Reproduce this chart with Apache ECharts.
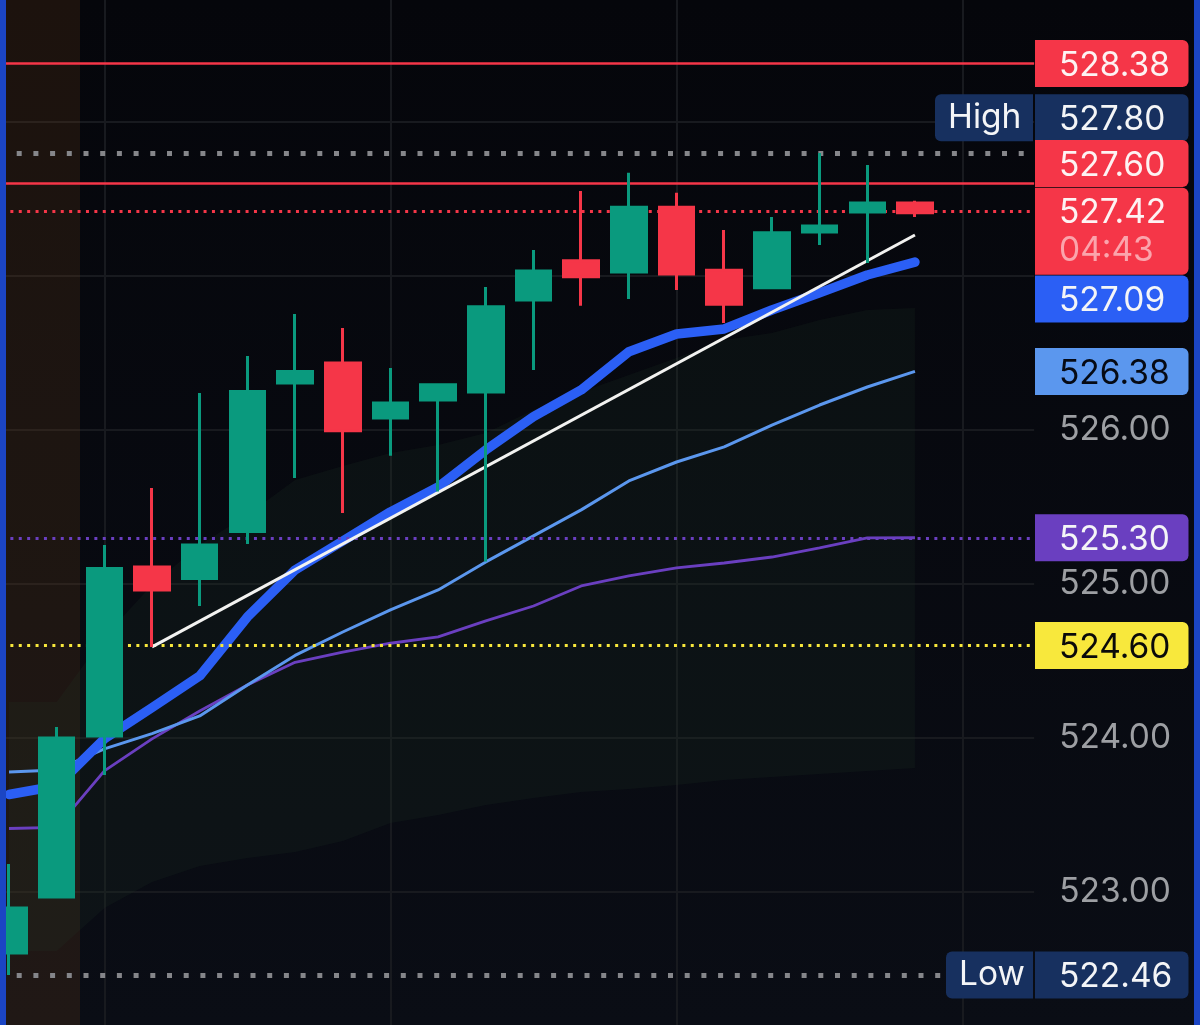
<!DOCTYPE html>
<html lang="en">
<head>
    <meta charset="UTF-8">
    <title>Candles with levels</title>
    <script src="https://cdn.jsdelivr.net/npm/echarts/dist/echarts.min.js"></script>
    <style>
        html, body { margin: 0; padding: 0; background: #06070c; }
        #chart { width: 1200px; height: 1025px; }
    </style>
</head>
<body>
<div id="chart"></div>
<script>
// one slot per bar, the last two are empty space before the price scale
var categories = ['1','2','3','4','5','6','7','8','9','10','11','12','13','14','15','16','17','18','19','20','21','22'];

// open, close, low, high
var candles = [
    [522.604, 522.896, 522.461, 523.182],
    [522.968, 524.000, 522.968, 524.071],
    [524.013, 525.100, 523.760, 525.253],
    [525.110, 524.961, 524.591, 525.623],
    [525.036, 525.253, 524.857, 526.240],
    [525.340, 526.249, 525.260, 526.481],
    [526.305, 526.379, 525.688, 526.753],
    [526.435, 525.995, 525.461, 526.662],
    [526.078, 526.175, 525.833, 526.403],
    [526.195, 526.294, 525.600, 526.294],
    [526.247, 526.800, 525.145, 526.929],
    [526.844, 527.032, 526.390, 527.169],
    [527.099, 526.995, 526.807, 527.552],
    [527.026, 527.446, 526.851, 527.671],
    [527.446, 527.013, 526.909, 527.541],
    [527.037, 526.816, 526.695, 527.299],
    [526.924, 527.281, 526.924, 527.383],
    [527.286, 527.325, 527.201, 527.799],
    [527.416, 527.474, 527.084, 527.721],
    [527.474, 527.411, 527.383, 527.489]
];

var emaFast = [523.633, 523.688, 523.994, 524.197, 524.403, 524.786, 525.091, 525.279, 525.468, 525.630,
               525.870, 526.086, 526.260, 526.508, 526.623, 526.656, 526.779, 526.890, 527.006, 527.090];
var emaSlow = [523.779, 523.792, 523.929, 524.028, 524.143, 524.344, 524.536, 524.688, 524.831, 524.961,
               525.143, 525.312, 525.481, 525.669, 525.792, 525.890, 526.032, 526.162, 526.279, 526.380];
var vwap    = [523.412, 523.419, 523.786, 523.994, 524.175, 524.344, 524.491, 524.558, 524.615, 524.656,
               524.760, 524.857, 524.987, 525.052, 525.104, 525.136, 525.175, 525.234, 525.299, 525.300];
var bandUpper = [524.234, 524.234, 524.656, 524.994, 525.253, 525.448, 525.675, 525.766, 525.851, 525.903,
                 525.981, 526.130, 526.247, 526.357, 526.468, 526.584, 526.630, 526.714, 526.779, 526.792];
var bandLower = [522.617, 522.617, 522.896, 523.065, 523.169, 523.221, 523.260, 523.331, 523.448, 523.500,
                 523.565, 523.610, 523.649, 523.669, 523.695, 523.727, 523.747, 523.766, 523.786, 523.805];

var trendFrom = ['4', 524.591];
var trendTo = ['20', 527.266];

var levelsRed = [528.38, 527.60];
var lastPrice = 527.42;
var sessionHigh = 527.80;
var sessionLow = 522.46;
var levelPurple = 525.30;
var levelYellow = 524.60;

var axisTicks = [523, 524, 525, 526, 527, 528];
var axisLabels = [523, 524, 525, 526];
var countdown = '04:43';

var GREEN = '#0a9a7e';
var RED = '#f53648';
var NAVY = '#17305f';
var DOT = [3, 5.4];
var TAG_FONT = '33.5px Inter';

function hLine(value, color, width, dash, offset) {
    return {
        yAxis: value,
        lineStyle: { color: color, width: width, type: dash, dashOffset: offset || 0 }
    };
}

var chartDom = document.getElementById('chart');
var myChart = echarts.init(chartDom);

myChart.setOption({
    animation: false,
    backgroundColor: {
        type: 'linear', x: 0, y: 0, x2: 0, y2: 1,
        colorStops: [{ offset: 0, color: '#05060b' }, { offset: 1, color: '#0a0d15' }]
    },
    grid: { left: -14.84, width: 1049, top: 0, height: 1025, outerBoundsMode: 'none' },
    xAxis: {
        type: 'category',
        data: categories,
        axisLine: { show: false },
        axisTick: { show: false },
        axisLabel: { show: false },
        splitLine: {
            show: true,
            alignWithLabel: true,
            interval: function (idx) { return idx % 6 === 2; },
            lineStyle: { color: '#181a1f', width: 2 }
        }
    },
    yAxis: {
        type: 'value',
        position: 'right',
        min: 522.136,
        max: 528.792,
        axisLine: { show: false },
        axisTick: { show: false, customValues: axisTicks },
        axisLabel: {
            customValues: axisLabels,
            align: 'left',
            margin: 25,
            color: '#9d9fa3',
            fontFamily: 'Inter',
            fontSize: 33.5,
            padding: [4, 0, 0, 0],
            formatter: function (v) { return v.toFixed(2); }
        },
        splitLine: { show: true, lineStyle: { color: '#181a1f', width: 2 } }
    },
    series: [
        {
            name: 'bandLower',
            type: 'line',
            stack: 'band',
            symbol: 'none',
            z: 1,
            lineStyle: { opacity: 0 },
            data: bandLower,
            markArea: {
                silent: true,
                itemStyle: { color: 'rgba(118,72,24,0.2)' },
                data: [[{ x: 6, y: 0 }, { x: 80, y: 1025 }]]
            }
        },
        {
            name: 'bandWidth',
            type: 'line',
            stack: 'band',
            symbol: 'none',
            z: 1,
            lineStyle: { opacity: 0 },
            areaStyle: { color: 'rgba(34,62,44,0.17)', opacity: 1 },
            data: bandUpper.map(function (v, i) { return +(v - bandLower[i]).toFixed(3); }),
            markLine: {
                silent: true,
                symbol: 'none',
                label: { show: false },
                data: [
                    hLine(levelsRed[0], RED, 2.5, 'solid'),
                    hLine(levelsRed[1], RED, 2.5, 'solid'),
                    hLine(lastPrice, RED, 3, DOT),
                    hLine(sessionHigh, '#85868a', 5, [5, 11.7], 1.86),
                    hLine(sessionLow, '#85868a', 5, [5, 11.7], 1.86),
                    hLine(levelPurple, '#6a3fc0', 3, DOT),
                    hLine(levelYellow, '#f8e83c', 3, DOT)
                ]
            }
        },
        {
            name: 'trend',
            type: 'line',
            symbol: 'none',
            z: 2,
            data: [],
            markLine: {
                silent: true,
                symbol: 'none',
                label: { show: false },
                lineStyle: { color: '#f2f2f0', width: 3, type: 'solid' },
                data: [[{ coord: trendFrom }, { coord: trendTo }]]
            }
        },
        {
            name: 'vwap',
            type: 'line',
            symbol: 'none',
            z: 3,
            lineStyle: { color: '#6a3fc0', width: 2.8 },
            data: vwap
        },
        {
            name: 'emaSlow',
            type: 'line',
            symbol: 'none',
            z: 3,
            lineStyle: { color: '#5b97ee', width: 3 },
            data: emaSlow
        },
        {
            name: 'emaFast',
            type: 'line',
            symbol: 'none',
            z: 4,
            lineStyle: { color: '#2b5ff5', width: 9.5, cap: 'round', join: 'round' },
            data: emaFast
        },
        {
            name: 'price',
            type: 'candlestick',
            z: 5,
            barWidth: 35,
            itemStyle: {
                color: GREEN,
                color0: RED,
                borderColor: GREEN,
                borderColor0: RED,
                borderWidth: 3
            },
            data: candles
        }
    ]
});

// price tags on the scale, nudged the way the platform stacks them when they would overlap
function priceTag(value, nudge, fill, textColor, height, extra) {
    var y = myChart.convertToPixel({ yAxisIndex: 0 }, value) + nudge;
    var items = [
        {
            type: 'rect',
            z: 100,
            shape: { x: 1035, y: y - 23.5, width: 153.5, height: height, r: [0, 6, 6, 0] },
            style: { fill: fill }
        },
        {
            type: 'text',
            z: 101,
            style: {
                x: 1059, y: y + 2, text: value.toFixed(2), fill: textColor,
                font: TAG_FONT, textVerticalAlign: 'middle'
            }
        }
    ];
    return items.concat(extra || []);
}

function sideTag(value, nudge, left, text) {
    var y = myChart.convertToPixel({ yAxisIndex: 0 }, value) + nudge;
    return [
        {
            type: 'rect',
            z: 100,
            shape: { x: left, y: y - 23.5, width: 1033 - left, height: 47, r: [6, 0, 0, 6] },
            style: { fill: NAVY }
        },
        {
            type: 'text',
            z: 101,
            style: {
                x: left + 13, y: y, text: text, fill: '#f4f5f7',
                font: TAG_FONT, textVerticalAlign: 'middle'
            }
        }
    ];
}

var lastY = myChart.convertToPixel({ yAxisIndex: 0 }, lastPrice);
var tags = [].concat(
    priceTag(levelsRed[0], 0, RED, '#fdf3f3', 47),
    sideTag(sessionHigh, -35, 935, 'High'),
    priceTag(sessionHigh, -35, NAVY, '#f4f5f7', 47),
    priceTag(levelsRed[1], -20, RED, '#fdf3f3', 47),
    priceTag(lastPrice, 0, RED, '#fdf3f3', 87, [{
        type: 'text',
        z: 101,
        style: {
            x: 1059, y: lastY + 40, text: countdown, fill: 'rgba(255,255,255,0.55)',
            font: TAG_FONT, textVerticalAlign: 'middle'
        }
    }]),
    priceTag(emaFast[19], 37, '#2b5ff5', '#f4f5f7', 47),
    priceTag(emaSlow[19], 0, '#5b97ee', '#060a14', 47),
    priceTag(levelPurple, 0, '#6a3fc0', '#f4f5f7', 47),
    priceTag(levelYellow, 0, '#f8e83c', '#0a0a0a', 47),
    sideTag(sessionLow, 0, 946, 'Low'),
    priceTag(sessionLow, 0, NAVY, '#f4f5f7', 47),
    [
        { type: 'rect', z: 102, shape: { x: 0, y: 0, width: 6, height: 1025 }, style: { fill: '#1b45c4' } },
        { type: 'rect', z: 102, shape: { x: 1194, y: 0, width: 6, height: 1025 }, style: { fill: '#1b45c4' } }
    ]
);

myChart.setOption({ graphic: { elements: tags } });
</script>
</body>
</html>
